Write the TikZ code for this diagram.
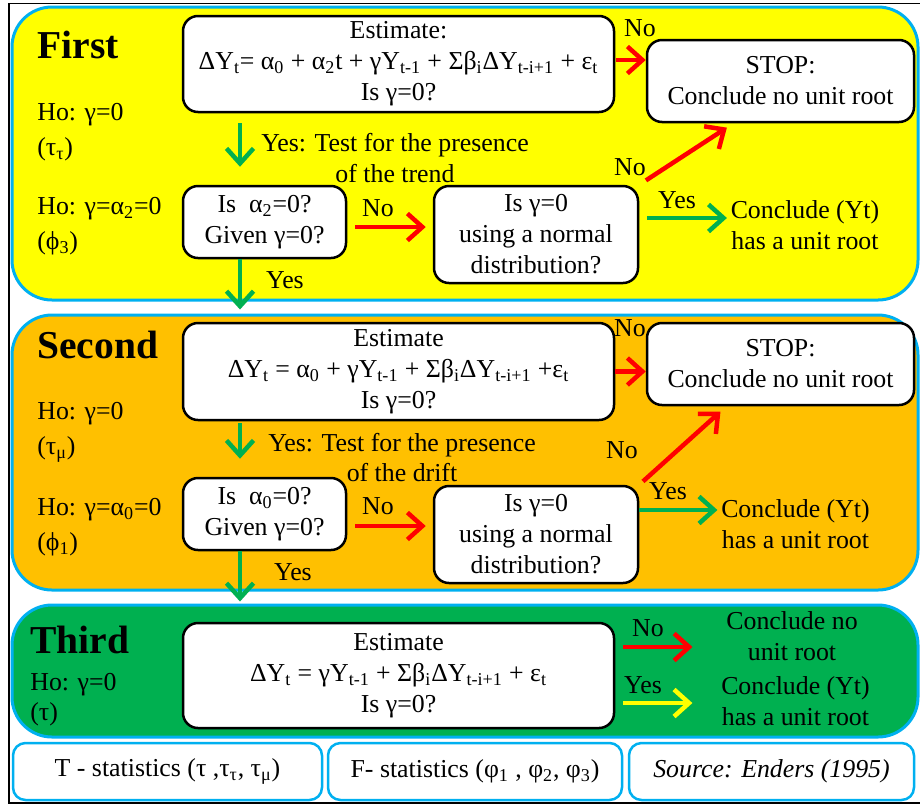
\documentclass[tikz,border=0pt]{standalone}
\usepackage{fontspec}
\setmainfont{Liberation Serif}
\usetikzlibrary{arrows.meta,positioning,calc}
\definecolor{DfYellow}{HTML}{FFFF00}
\definecolor{DfOrange}{HTML}{FFC000}
\definecolor{DfGreen}{HTML}{00B050}
\definecolor{DfSky}{HTML}{00B0F0}
\definecolor{DfRed}{HTML}{FF0000}
\newcommand{\ix}[1]{\textsubscript{#1}}

\begin{document}
\begin{tikzpicture}[
    font=\fontsize{14.7}{17.6}\selectfont,
    panel/.style={draw=DfSky,line width=0.06cm,rounded corners=0.8cm},
    box/.style={draw=black,fill=white,line width=0.05cm,rounded corners=0.3cm,align=center,inner sep=2pt},
    foot/.style={draw=DfSky,fill=white,line width=0.05cm,rounded corners=0.25cm,minimum height=1.14cm},
    head/.style={anchor=west,inner sep=0pt,font=\fontsize{22.5}{26}\selectfont\bfseries},
    ho/.style={anchor=west,align=left,inner sep=0pt,font=\fontsize{14.7}{19.9}\selectfont},
    txt/.style={align=center,inner sep=2pt},
    arr/.style={-{Straight Barb[length=0.3cm,width=0.54cm]},line width=0.09cm},
    noarr/.style={arr,DfRed},
    yesarr/.style={arr,DfGreen}
  ]
    \useasboundingbox (0,0) rectangle (18.4,-16.1);
    \draw[line width=1pt] (18.45,-0.07) -| (0.18,-16.06) -- (18.45,-16.06);

    \node[panel,fill=DfYellow,minimum width=18.12cm,minimum height=5.86cm] (p1) at (9.3,-3.07) {};
    \node[panel,fill=DfOrange,minimum width=18.12cm,minimum height=5.5cm] (p2) at (9.3,-9.05) {};
    \node[panel,fill=DfGreen,minimum width=18.12cm,minimum height=2.64cm] (p3) at (9.3,-13.42) {};
    \coordinate (dn) at (4.8,0);

    \node[head] (t1) at (0.74,-0.9) {First};
    \node[ho] (h1a) at (0.74,-2.65) {Ho: γ=0\\(τ\ix{τ})};
    \node[ho] (h1b) at (0.74,-4.53) {Ho: γ=α\ix{2}=0\\(ϕ\ix{3})};
    \node[box,minimum width=8.62cm,minimum height=1.92cm] (A1) at (7.97,-1.28)
      {Estimate:\\ΔY\ix{t}= α\ix{0} + α\ix{2}t + γY\ix{t-1} + Σβ\ix{i}ΔY\ix{t-i+1} + ε\ix{t}\\Is γ=0?};
    \node[box,minimum width=5.34cm,minimum height=1.64cm] (S1) at (15.61,-1.62) {STOP:\\Conclude no unit root};
    \node[box,minimum width=3.26cm,minimum height=1.44cm] (B1) at (5.29,-4.44) {Is~~α\ix{2}=0?\\Given γ=0?};
    \node[box,minimum width=4.08cm,minimum height=1.94cm] (C1) at (10.72,-4.69) {Is γ=0\\using a normal\\distribution?};
    \node[txt] (Y1) at (16.1,-4.5) {Conclude (Yt)\\has a unit root};
    \node[txt] (n1a) at (12.8,-0.56) {No};
    \node[txt] (y1a) at (7.9,-3.16) {Yes: Test for the presence\\of the trend};
    \node[txt] (n1b) at (7.56,-4.16) {No};
    \node[txt] (n1c) at (12.6,-3.34) {No};
    \node[txt] (y1b) at (13.54,-4.0) {Yes};
    \node[txt] (y1c) at (5.7,-5.6) {Yes};
    \draw[noarr,shorten <=0.02cm] ([yshift=0.08cm]A1.east) -- ([yshift=0.08cm]A1.east -| S1.west);
    \draw[yesarr,shorten <=0.2cm,shorten >=0.36cm] (A1.south -| dn) -- (B1.north -| dn);
    \draw[noarr,shorten <=0.16cm,shorten >=0.14cm] ([yshift=-0.1cm]B1.east) -- ([yshift=-0.1cm]B1.east -| C1.west);
    \draw[noarr,shorten <=0.16cm,shorten >=0.16cm] (C1.north east) -- (S1.-138);
    \draw[yesarr,shorten <=0.16cm] ([yshift=0.33cm]C1.east) -- ([yshift=0.33cm]C1.east -| Y1.west);
    \draw[yesarr,shorten >=0.08cm] (B1.south -| dn) -- (p2.north -| dn);

    \node[head] (t2) at (0.74,-6.9) {Second};
    \node[ho] (h2a) at (0.74,-8.65) {Ho: γ=0\\(τ\ix{μ})};
    \node[ho] (h2b) at (0.74,-10.55) {Ho: γ=α\ix{0}=0\\(ϕ\ix{1})};
    \node[box,minimum width=8.62cm,minimum height=1.94cm] (A2) at (7.97,-7.43)
      {Estimate\\ΔY\ix{t} = α\ix{0} + γY\ix{t-1} + Σβ\ix{i}ΔY\ix{t-i+1} +ε\ix{t}\\Is γ=0?};
    \node[box,minimum width=5.34cm,minimum height=1.64cm] (S2) at (15.61,-7.28) {STOP:\\Conclude no unit root};
    \node[box,minimum width=3.26cm,minimum height=1.44cm] (B2) at (5.29,-10.28) {Is~~α\ix{0}=0?\\Given γ=0?};
    \node[box,minimum width=4.08cm,minimum height=1.94cm] (C2) at (10.72,-10.69) {Is γ=0\\using a normal\\distribution?};
    \node[txt] (Y2) at (15.91,-10.49) {Conclude (Yt)\\has a unit root};
    \node[txt] (n2a) at (12.6,-6.56) {No};
    \node[txt] (y2a) at (8.04,-9.15) {Yes: Test for the presence\\of the drift};
    \node[txt] (n2b) at (7.56,-10.12) {No};
    \node[txt] (n2c) at (12.44,-9.0) {No};
    \node[txt] (y2b) at (13.36,-9.82) {Yes};
    \node[txt] (y2c) at (5.86,-11.44) {Yes};
    \draw[noarr] (A2.east) -- (A2.east -| S2.west);
    \draw[yesarr,shorten <=0.04cm,shorten >=0.36cm] (A2.south -| dn) -- (B2.north -| dn);
    \draw[noarr,shorten <=0.16cm,shorten >=0.14cm] ([yshift=-0.24cm]B2.east) -- ([yshift=-0.24cm]B2.east -| C2.west);
    \draw[noarr,shorten <=0.1cm,shorten >=0.16cm] (C2.north east) -- (S2.-142.5);
    \draw[yesarr] ([yshift=0.49cm]C2.east) -- ([yshift=0.49cm]C2.east -| Y2.west);
    \draw[yesarr,shorten >=0.04cm] (B2.south -| dn) -- (p3.north -| dn);

    \node[head] (t3) at (0.6,-12.8) {Third};
    \node[ho,font=\fontsize{14.7}{17.2}\selectfont] (h3) at (0.6,-14.0) {Ho: γ=0\\(τ)};
    \node[box,minimum width=8.62cm,minimum height=2.1cm] (A3) at (7.97,-13.51)
      {Estimate\\ΔY\ix{t} = γY\ix{t-1} + Σβ\ix{i}ΔY\ix{t-i+1} + ε\ix{t}\\Is γ=0?};
    \node[txt] (N3) at (15.84,-12.72) {Conclude no\\unit root};
    \node[txt] (Y3) at (15.91,-14.03) {Conclude (Yt)\\has a unit root};
    \node[txt] (n3) at (12.96,-12.56) {No};
    \node[txt] (y3) at (12.86,-13.7) {Yes};
    \draw[noarr,shorten <=0.16cm,shorten >=0.6cm] ([yshift=0.57cm]A3.east) -- ([yshift=0.57cm]A3.east -| N3.west);
    \draw[arr,DfYellow,shorten <=0.16cm,shorten >=0.5cm] ([yshift=-0.55cm]A3.east) -- ([yshift=-0.55cm]A3.east -| Y3.west);

    \node[foot,minimum width=6.18cm] (fT) at (3.35,-15.43) {T - statistics (τ ,τ\ix{τ}, τ\ix{μ})};
    \node[foot,minimum width=5.88cm] (fF) at (9.5,-15.43) {F- statistics (φ\ix{1} , φ\ix{2}, φ\ix{3})};
    \node[foot,minimum width=5.7cm] (fS) at (15.43,-15.43) {\textit{Source: Enders (1995)}};
  \end{tikzpicture}
\end{document}
